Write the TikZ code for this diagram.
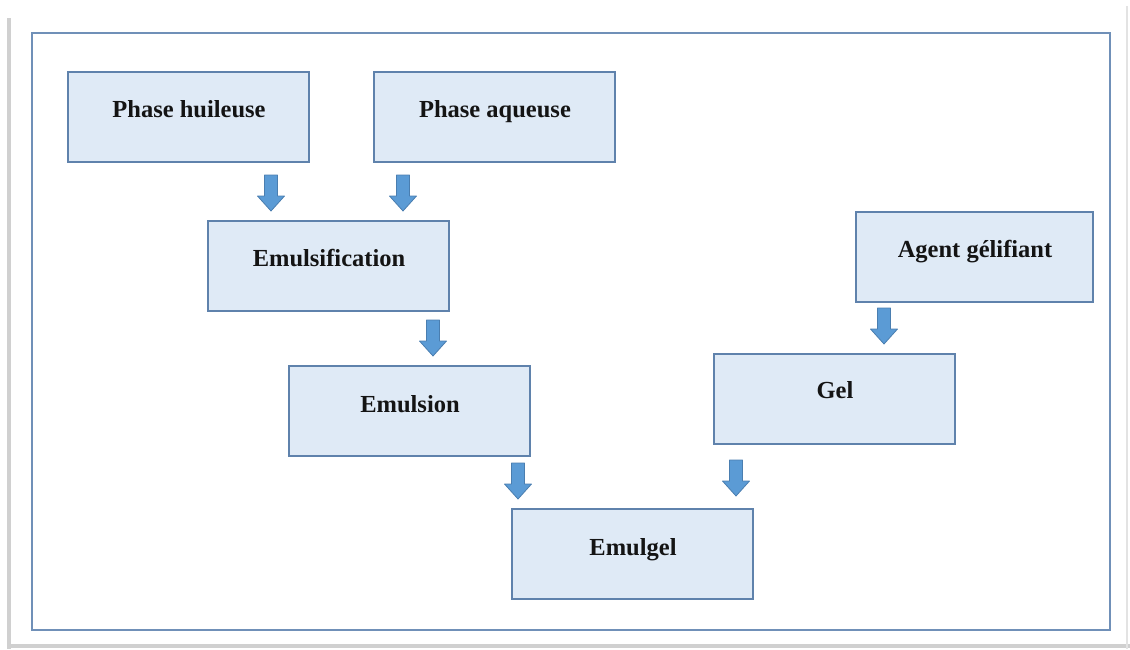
\documentclass[tikz,border=0pt]{standalone}
\usepackage{fontspec}
\setmainfont{Liberation Serif}
\definecolor{boxfill}{HTML}{DFEAF6}
\definecolor{boxline}{HTML}{5F82AC}
\definecolor{framecol}{HTML}{7090B8}
\definecolor{arrfill}{HTML}{5B9BD5}
\definecolor{arrline}{HTML}{4A7EB0}
\definecolor{shadowcol}{HTML}{D0D0D0}
\tikzset{
  stepbox/.style={draw=boxline, line width=1.8pt, fill=boxfill},
  lbl/.style={font=\fontsize{24.5}{26}\selectfont\bfseries, text=black!92, inner sep=0pt, anchor=base},
  blockarrow/.pic={\draw[fill=arrfill, draw=arrline, line width=0.8pt, line join=round]
     (-6.5,0) -- (6.5,0) -- (6.5,21) -- (13.5,21) -- (0,36) -- (-13.5,21) -- (-6.5,21) -- cycle;}
}
\begin{document}
\begin{tikzpicture}[x=1pt, y=-1pt]
\useasboundingbox (0,0) rectangle (1130,649);
% page shadow
\fill[white] (0,0) rectangle (1130,649);
\fill[shadowcol] (7,18) rectangle (10.5,649);
\fill[shadowcol] (7,644) rectangle (1130,647.5);
\fill[shadowcol!60] (1126,6) rectangle (1128,649);
% frame
\draw[framecol, line width=2.2pt] (32,33) rectangle (1110,630);
% boxes
\draw[stepbox] (68,72) rectangle (309,162);
\node[lbl] (ph) at (189,117.5) {Phase huileuse};
\draw[stepbox] (374,72) rectangle (615,162);
\node[lbl] (pa) at (495,117.5) {Phase aqueuse};
\draw[stepbox] (208,221) rectangle (449,311);
\node[lbl] (emf) at (329,266.5) {Emulsification};
\draw[stepbox] (856,212) rectangle (1093,302);
\node[lbl] (ag) at (975,257.5) {Agent gélifiant};
\draw[stepbox] (289,366) rectangle (530,456);
\node[lbl] (ems) at (410,412.5) {Emulsion};
\draw[stepbox] (714,354) rectangle (955,444);
\node[lbl] (gel) at (835,398.5) {Gel};
\draw[stepbox] (512,509) rectangle (753,599);
\node[lbl] (emg) at (633,555.5) {Emulgel};
% block arrows
\pic at (271,175) {blockarrow};
\pic at (403,175) {blockarrow};
\pic at (433,320) {blockarrow};
\pic at (884,308) {blockarrow};
\pic at (518,463) {blockarrow};
\pic at (736,460) {blockarrow};
\end{tikzpicture}
\end{document}
